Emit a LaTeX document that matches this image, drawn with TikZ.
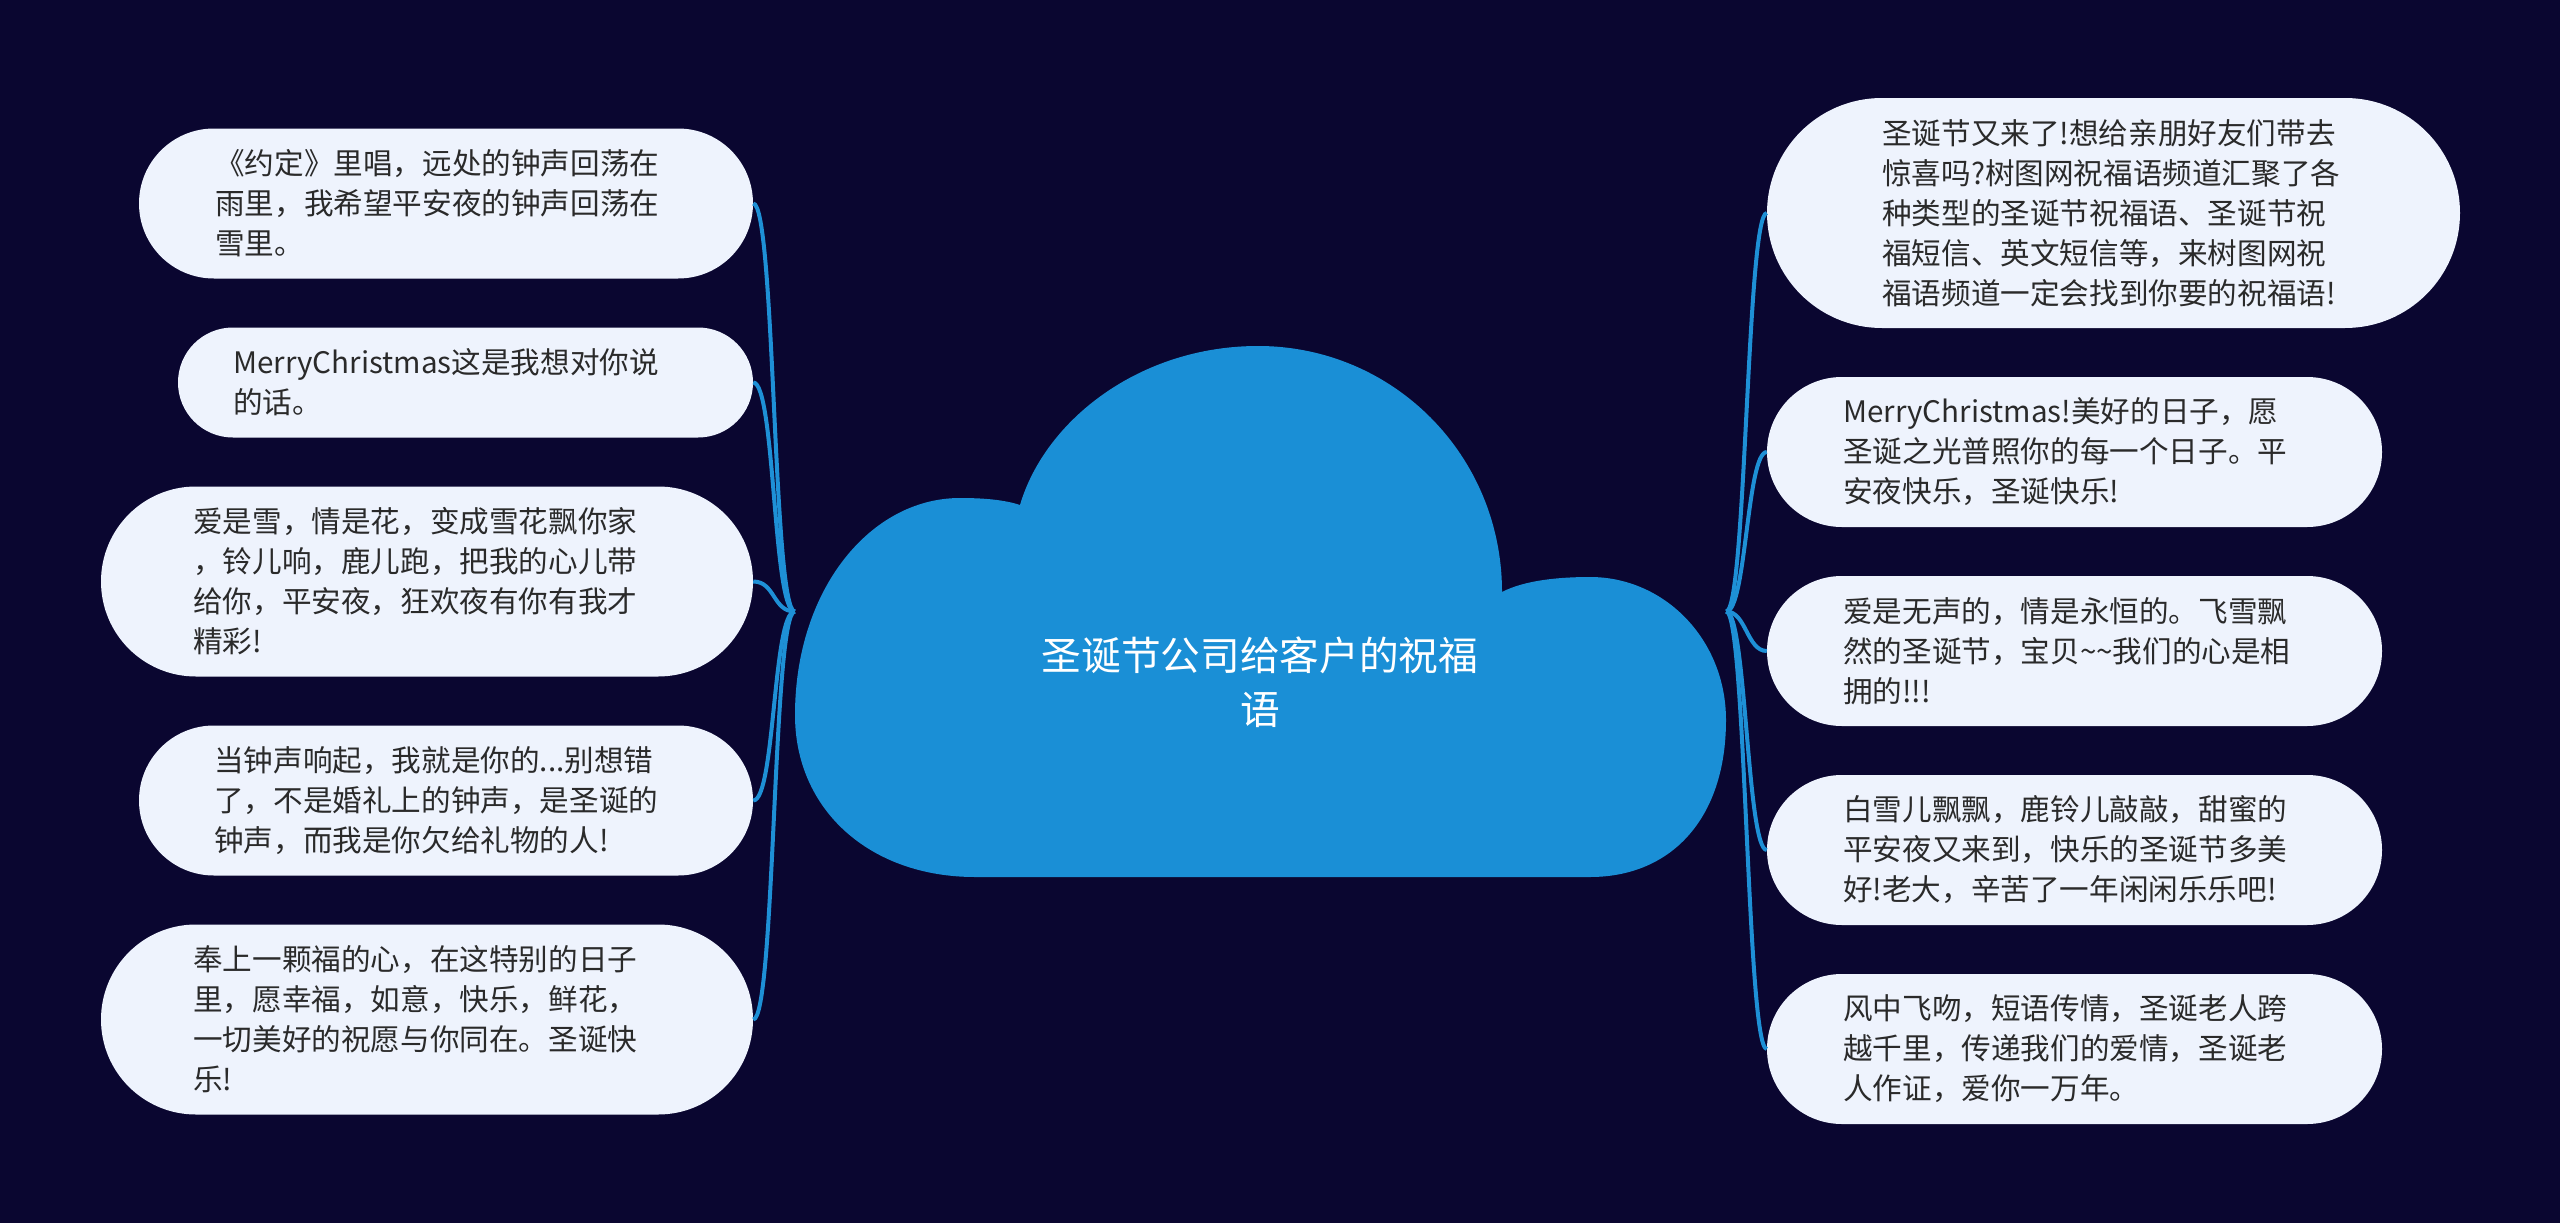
\documentclass[tikz,border=0pt]{standalone}
\usepackage{fontspec}
\setmainfont{Noto Sans CJK SC}
\definecolor{bg}{HTML}{0A0630}
\definecolor{cloudblue}{HTML}{1A8FD6}
\definecolor{linkblue}{HTML}{1E90D6}
\definecolor{bubblefill}{HTML}{EEF3FD}
\definecolor{txt}{HTML}{2A2A2A}
\begin{document}
\begin{tikzpicture}[x=1pt,y=-1pt,
  bubble/.style={fill=bubblefill, draw=none, inner sep=0pt},
  btext/.style={anchor=west, align=left, inner sep=0pt, text=txt, font=\fontsize{29.6pt}{40pt}\selectfont},
  link/.style={draw=linkblue, line width=4pt}]
\fill[bg] (0,0) rectangle (2560,1223);
\useasboundingbox (0,0) rectangle (2560,1223);
% cloud
\fill[cloudblue] (975,877) .. controls (870,877) and (795,810) .. (795,715)
  .. controls (795,590) and (870,498) .. (960,498)
  .. controls (985,498) and (1005,500) .. (1020,505)
  .. controls (1045,420) and (1140,346) .. (1258,346)
  .. controls (1393,346) and (1502,455) .. (1502,592)
  .. controls (1525,580) and (1560,577) .. (1590,577)
  .. controls (1665,577) and (1726,640) .. (1726,720)
  .. controls (1726,820) and (1670,877) .. (1590,877) -- cycle;
\node[minimum width=931pt, minimum height=531pt, inner sep=0pt] (root) at (1260.5,611.5) {};
\node[text=white, align=center, inner sep=0pt, font=\fontsize{39.7pt}{54pt}\selectfont] (rootlabel) at (1260,682) {圣诞节公司给客户的祝福\\语};
% left bubbles
\node[bubble, minimum width=614pt, minimum height=150pt, rounded corners=74.9pt] (l1) at (446,203.5) {};
\node[bubble, minimum width=575pt, minimum height=110pt, rounded corners=54.9pt] (l2) at (465.5,382.5) {};
\node[bubble, minimum width=652pt, minimum height=190pt, rounded corners=94.9pt] (l3) at (427,581.5) {};
\node[bubble, minimum width=614pt, minimum height=150pt, rounded corners=74.9pt] (l4) at (446,800.5) {};
\node[bubble, minimum width=652pt, minimum height=190pt, rounded corners=94.9pt] (l5) at (427,1019.5) {};
% right bubbles
\node[bubble, minimum width=693pt, minimum height=230pt, rounded corners=114.9pt] (r1) at (2113.5,213) {};
\node[bubble, minimum width=615pt, minimum height=150pt, rounded corners=74.9pt] (r2) at (2074.5,452) {};
\node[bubble, minimum width=615pt, minimum height=150pt, rounded corners=74.9pt] (r3) at (2074.5,651) {};
\node[bubble, minimum width=615pt, minimum height=150pt, rounded corners=74.9pt] (r4) at (2074.5,850) {};
\node[bubble, minimum width=615pt, minimum height=150pt, rounded corners=74.9pt] (r5) at (2074.5,1049) {};
% texts
\node[btext] (tl1) at (215,203.5) {《约定》里唱，远处的钟声回荡在\\雨里，我希望平安夜的钟声回荡在\\雪里。};
\node[btext] (tl2) at (233,382.5) {MerryChristmas这是我想对你说\\的话。};
\node[btext] (tl3) at (193,581.5) {爱是雪，情是花，变成雪花飘你家\\，铃儿响，鹿儿跑，把我的心儿带\\给你，平安夜，狂欢夜有你有我才\\精彩!};
\node[btext] (tl4) at (214,800.5) {当钟声响起，我就是你的...别想错\\了，不是婚礼上的钟声，是圣诞的\\钟声，而我是你欠给礼物的人!};
\node[btext] (tl5) at (193,1019.5) {奉上一颗福的心，在这特别的日子\\里，愿幸福，如意，快乐，鲜花，\\一切美好的祝愿与你同在。圣诞快\\乐!};
\node[btext] (tr1) at (1882,213) {圣诞节又来了!想给亲朋好友们带去\\惊喜吗?树图网祝福语频道汇聚了各\\种类型的圣诞节祝福语、圣诞节祝\\福短信、英文短信等，来树图网祝\\福语频道一定会找到你要的祝福语!};
\node[btext] (tr2) at (1843,452) {MerryChristmas!美好的日子，愿\\圣诞之光普照你的每一个日子。平\\安夜快乐，圣诞快乐!};
\node[btext] (tr3) at (1843,651) {爱是无声的，情是永恒的。飞雪飘\\然的圣诞节，宝贝\textasciitilde\textasciitilde 我们的心是相\\拥的!!!};
\node[btext] (tr4) at (1843,850) {白雪儿飘飘，鹿铃儿敲敲，甜蜜的\\平安夜又来到，快乐的圣诞节多美\\好!老大，辛苦了一年闲闲乐乐吧!};
\node[btext] (tr5) at (1843,1049) {风中飞吻，短语传情，圣诞老人跨\\越千里，传递我们的爱情，圣诞老\\人作证，爱你一万年。};
% connectors
\foreach \n in {l1,l2,l3,l4,l5}
  \draw[link] (root.west) .. controls +(-22,0) and +(22,0) .. (\n.east);
\foreach \n in {r1,r2,r3,r4,r5}
  \draw[link] (root.east) .. controls +(20,0) and +(-20,0) .. (\n.west);
\end{tikzpicture}
\end{document}
